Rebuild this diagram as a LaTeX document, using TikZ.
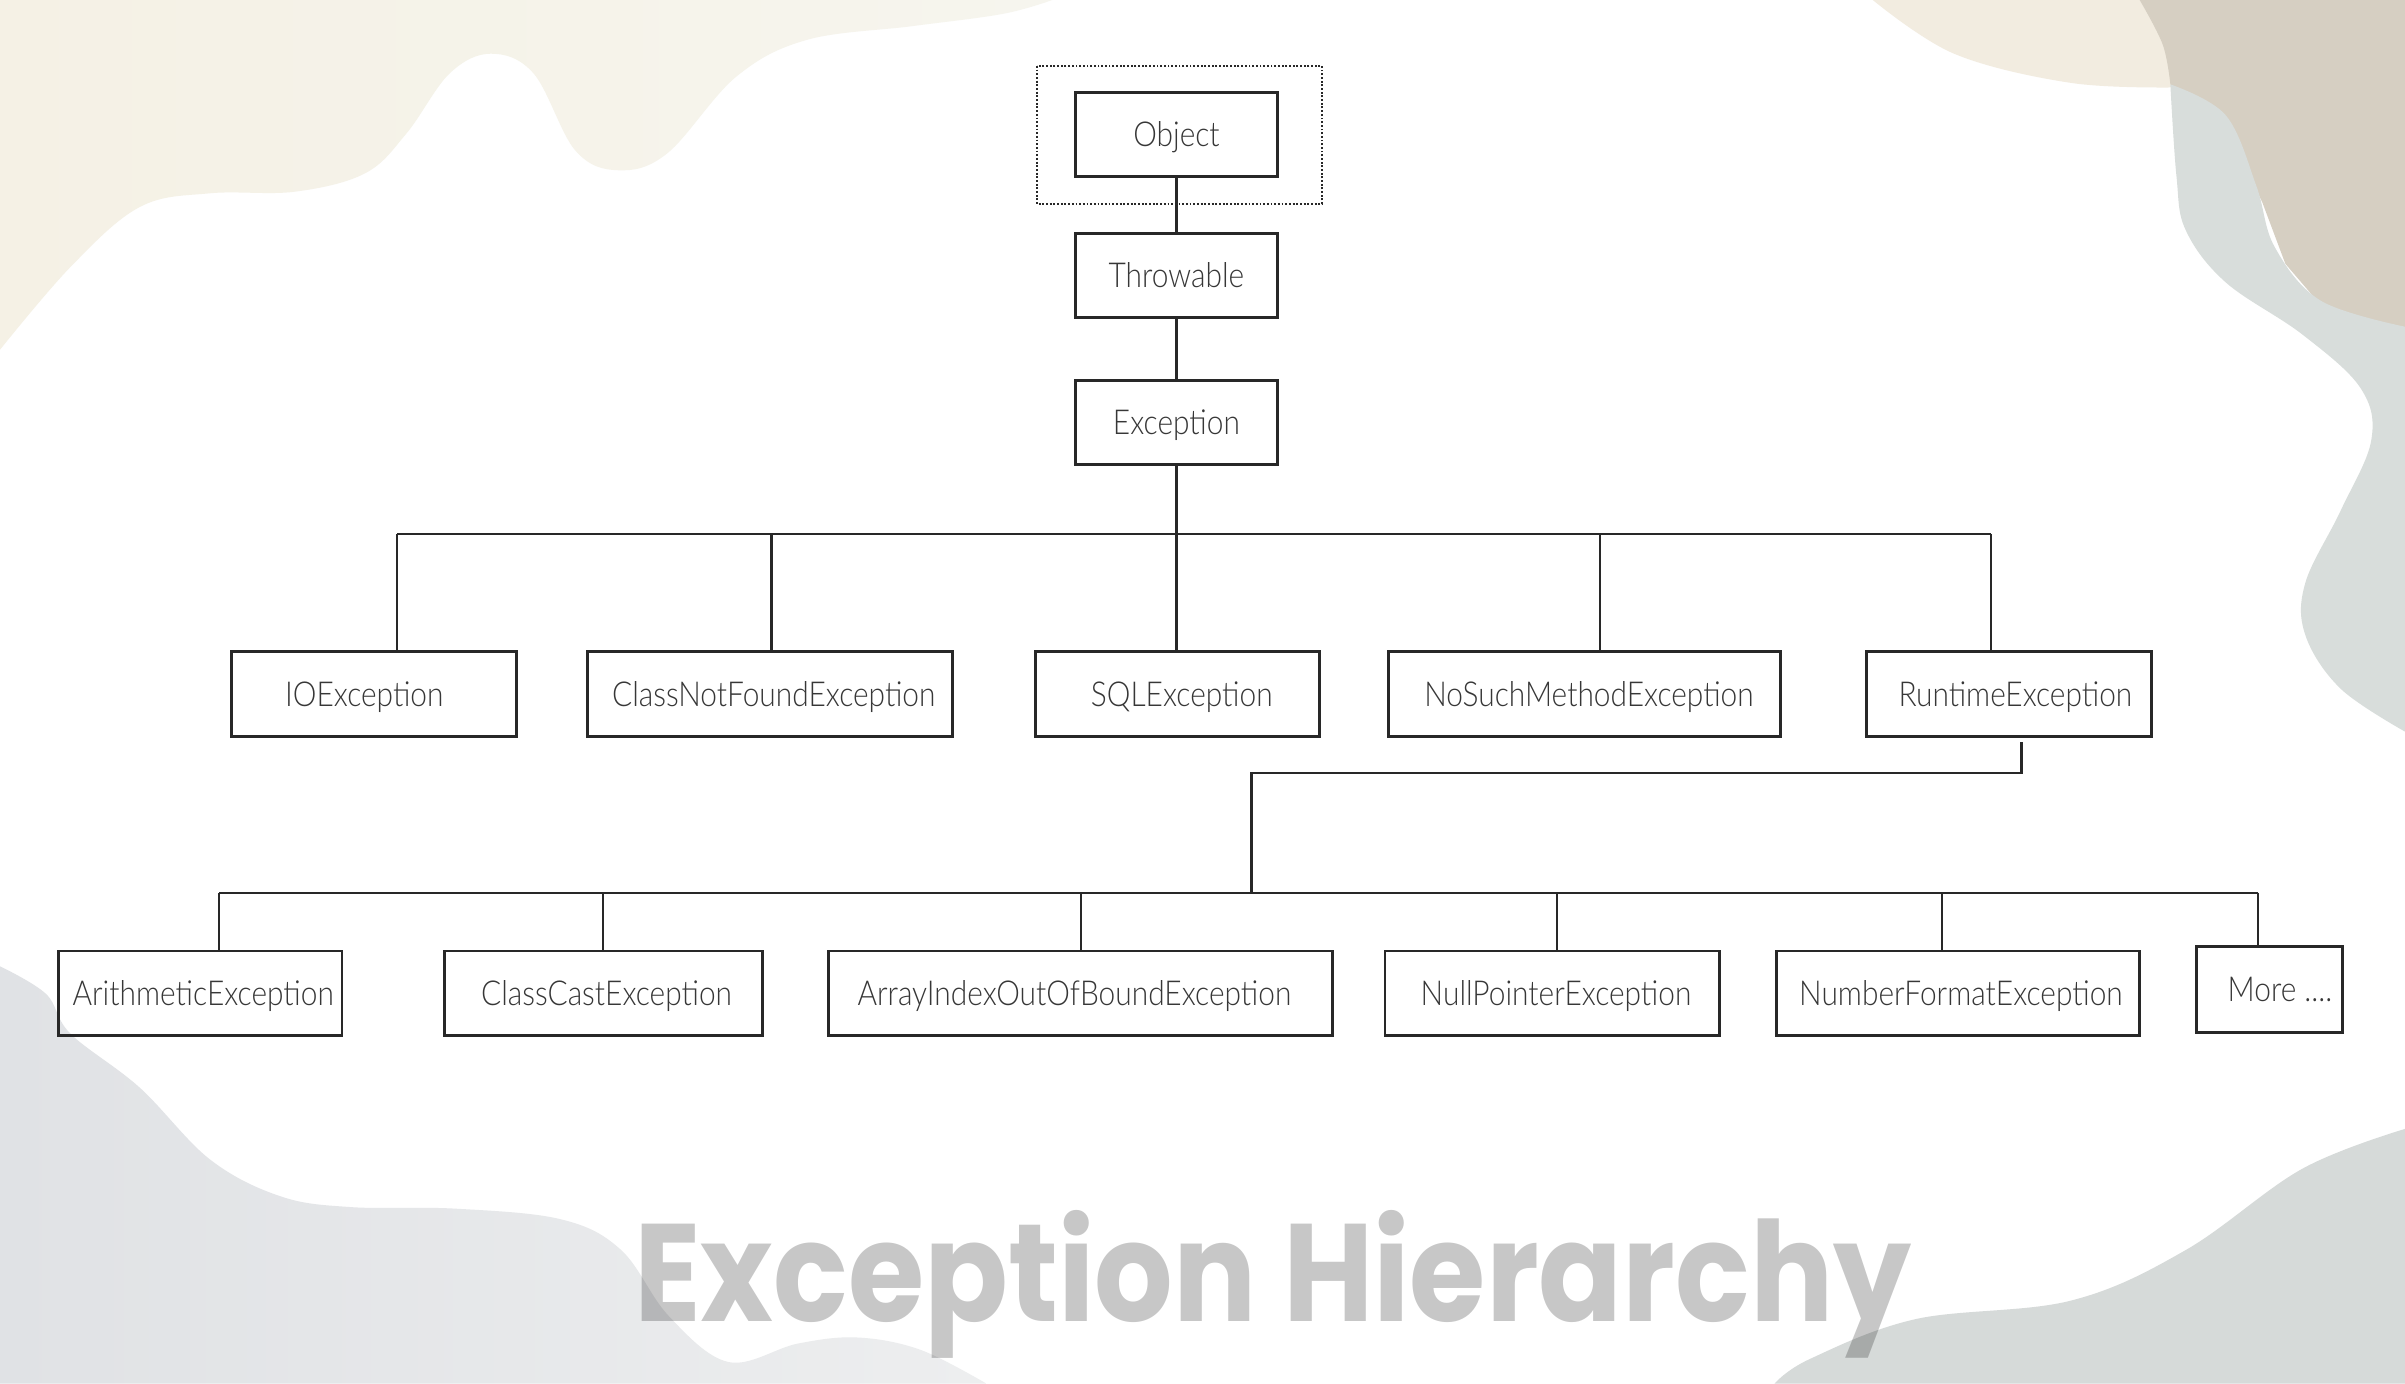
\documentclass[tikz,border=0pt]{standalone}
\usepackage{fontspec}
\usepackage{graphicx}
\IfFontExistsTF{Lato Light}{\newfontfamily\boxfont{Lato Light}[FakeStretch=0.87]}{\newfontfamily\boxfont{Lato}[FakeStretch=0.87]}
\newfontfamily\titlefont{Poppins}
\definecolor{tlbeige}{RGB}{245,241,229}
\definecolor{tlbeigeR}{RGB}{246,245,238}
\definecolor{blgray}{RGB}{224,226,229}
\definecolor{blgrayR}{RGB}{237,238,239}
\definecolor{trlight}{RGB}{242,236,224}
\definecolor{trtan}{RGB}{214,207,194}
\definecolor{trgreen}{RGB}{216,221,219}
\definecolor{brgray}{RGB}{214,218,217}
\definecolor{boxcol}{RGB}{40,40,40}
\definecolor{textcol}{RGB}{55,55,55}
\begin{document}
\begin{tikzpicture}[x=0.5pt,y=-0.5pt,
  box/.style={draw=boxcol, line width=0.95pt, minimum height=27.5pt, inner sep=0pt,
    text height=8pt, text depth=0pt,
    font=\boxfont\fontsize{11.2}{13}\selectfont, text=textcol},
  conn/.style={draw=boxcol, line width=0.75pt}]
\useasboundingbox (0,0) rectangle (1568,902);
\fill[white] (0,0) rectangle (1568,902);
% background blobs
\shade[left color=tlbeige, right color=tlbeigeR]
  plot[smooth,tension=0.6] coordinates {(0,228) (46,174) (91,135) (137,126) (192,125) (238,113) (265,87) (293,48) (320,35) (348,48) (375,98) (403,111) (435,100) (480,50) (526,26) (595,17) (654,9) (686,0)} -- (0,0) -- cycle;
\shade[left color=blgray, right color=blgrayR]
  plot[smooth,tension=0.6] coordinates {(0,630) (30,648) (46,674) (91,709) (137,756) (183,780) (229,787) (297,788) (366,795) (405,815) (436,858) (475,888) (520,876) (559,872) (600,880) (643,902)} -- (0,902) -- cycle;
\fill[trlight]
  plot[smooth,tension=0.6] coordinates {(1221,0) (1274,35) (1350,54) (1418,57)} -- (1418,0) -- cycle;
\fill[trtan]
  plot[smooth,tension=0.6] coordinates {(1395,0) (1410,29) (1415,55)}
  -- (1451,82) -- (1475,132) -- (1490,172) -- (1520,207) -- (1568,224) -- (1568,0) -- cycle;
\fill[trgreen]
  plot[smooth,tension=0.6] coordinates {(1568,477) (1526,449) (1503,414) (1503,380) (1526,333) (1546,287) (1539,253) (1501,218) (1451,184) (1425,150) (1419,115) (1415,55)}
  -- plot[smooth,tension=0.6] coordinates {(1415,55) (1451,75) (1471,121) (1483,161) (1513,196) (1568,213)} -- cycle;
\fill[brgray]
  plot[smooth,tension=0.6] coordinates {(1157,902) (1180,886) (1249,860) (1350,848) (1425,815) (1501,762) (1568,736)} -- (1568,902) -- cycle;
% title
\node[inner sep=0pt, anchor=north west, text=black, text opacity=0.22] (title) at (413,789)
  {\resizebox*{416.5pt}{48.25pt}{\titlefont\bfseries Exception Hierarchy}};
% selection frame
\draw[draw=boxcol, line width=0.6pt, dash pattern=on 0.6pt off 0.6pt] (676,43) rectangle (862,133);
% level 0-1
\node[box, minimum width=66pt] (obj) at (767,87.5) {Object};
\node[box, minimum width=66pt] (thr) at (767,179.5) {Throwable};
\node[box, minimum width=66pt] (exc) at (767,275.5) {Exception};
% level 2
\node[box, minimum width=93pt] (io) at (244,452.5) {IOException\hspace*{6.5pt}};
\node[box, minimum width=119pt] (cnf) at (502,452.5) {\hspace*{2.5pt}ClassNotFoundException};
\node[box, minimum width=92.5pt] (sql) at (767.5,452.5) {\hspace*{3pt}SQLException};
\node[box, minimum width=128pt] (nsm) at (1033,452.5) {\hspace*{3pt}NoSuchMethodException};
\node[box, minimum width=93pt] (rt) at (1310,452.5) {\hspace*{4pt}RuntimeException};
% level 3
\node[box, minimum width=92.5pt] (ari) at (130.5,647.5) {\hspace*{2pt}ArithmeticException};
\node[box, minimum width=103.5pt] (cce) at (393.5,647.5) {\hspace*{2pt}ClassCastException};
\node[box, minimum width=164.5pt] (aio) at (704.5,647.5) {ArrayIndexOutOfBoundException\hspace*{4pt}};
\node[box, minimum width=109pt] (npe) at (1012,647.5) {\hspace*{2.5pt}NullPointerException};
\node[box, minimum width=118.5pt] (nfe) at (1276.5,647.5) {\hspace*{2pt}NumberFormatException};
\node[box, minimum width=47.5pt, minimum height=28pt] (more) at (1479.5,645) {\hspace*{7pt}More ....};
% connectors top
\draw[conn] (obj) -- (thr);
\draw[conn] (thr) -- (exc);
\coordinate (b1) at (767,348);
\coordinate (b1L) at (259,348);
\coordinate (b1R) at (1298,348);
\draw[conn] (exc.south) -- (b1);
\draw[conn] (b1L) -- (b1R);
\foreach \x/\n in {259/io,503/cnf,767/sql,1043/nsm,1298/rt}{
  \coordinate (t\n) at (\x,348);
  \draw[conn] (t\n) -- (t\n |- \n.north);
}
% runtime branch
\coordinate (r1) at (1318,484);
\coordinate (r2) at (816,504);
\coordinate (b2) at (816,582);
\draw[conn] (r1) |- (r2) -- (b2);
\coordinate (b2L) at (143,582);
\coordinate (b2R) at (1472,582);
\draw[conn] (b2L) -- (b2R);
\foreach \x/\n in {143/ari,393/cce,705/aio,1015/npe,1266/nfe,1472/more}{
  \coordinate (u\n) at (\x,582);
  \draw[conn] (u\n) -- (u\n |- \n.north);
}
\end{tikzpicture}
\end{document}
